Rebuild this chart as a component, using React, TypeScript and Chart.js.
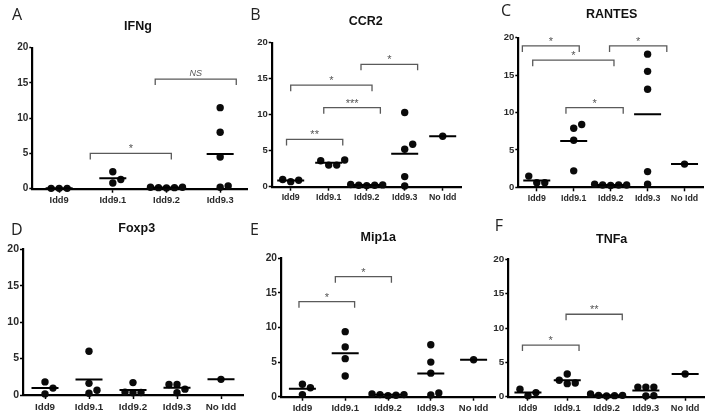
import React, { useEffect, useRef } from "react";
import { Chart, registerables } from "chart.js";

Chart.register(...registerables);

// ---------- data ----------
const categories = ["Idd9", "Idd9.1", "Idd9.2", "Idd9.3", "No Idd"];
const categoriesIFNg = ["Idd9", "Idd9.1", "Idd9.2", "Idd9.3"];
const yTicks = [0, 5, 10, 15, 20];

const ifngIdd9 = [0.05, 0.05, 0.05];
const ifngIdd91 = [2.4, 0.8, 1.3];
const ifngIdd92 = [0.15, 0.2, 0.1, 0.2, 0.15];
const ifngIdd93 = [11.5, 8.0, 4.5, 0.2, 0.4];

const ccr2Idd9 = [0.9, 0.7, 1.0];
const ccr2Idd91 = [3.6, 3.0, 3.7, 3.0];
const ccr2Idd92 = [0.2, 0.3, 0.25, 0.2, 0.15];
const ccr2Idd93 = [10.3, 5.2, 5.9, 1.4, 0.1];
const ccr2NoIdd = [7.0];

const rantesIdd9 = [1.5, 0.6, 0.6];
const rantesIdd91 = [7.9, 8.4, 6.3, 2.2];
const rantesIdd92 = [0.3, 0.4, 0.3, 0.25, 0.3];
const rantesIdd93 = [17.8, 15.5, 13.1, 2.1, 0.4];
const rantesNoIdd = [3.1];

const foxp3Idd9 = [1.8, 0.95, 0.15];
const foxp3Idd91 = [6.0, 1.6, 0.25, 0.65];
const foxp3Idd92 = [1.7, 0.3, 0.35, 0.4];
const foxp3Idd93 = [1.45, 1.45, 0.3, 0.8];
const foxp3NoIdd = [2.15];

const mip1aIdd9 = [1.8, 1.3, 0.3];
const mip1aIdd91 = [9.4, 7.2, 5.5, 3.0];
const mip1aIdd92 = [0.4, 0.3, 0.2, 0.3, 0.15];
const mip1aIdd93 = [7.5, 5.0, 3.4, 0.25, 0.55];
const mip1aNoIdd = [5.35];

const tnfaIdd9 = [1.1, 0.15, 0.6];
const tnfaIdd91 = [2.4, 3.3, 1.9, 2.0];
const tnfaIdd92 = [0.4, 0.2, 0.15, 0.1, 0.2];
const tnfaIdd93 = [1.4, 1.4, 1.4, 0.1, 0.15];
const tnfaNoIdd = [3.3];

// significance brackets: [from category, to category, height, label]
type Bracket = [number, number, number, string];
const ifngBrackets: Bracket[] = [
  [0.58, 2.09, 5.0, "*"],
  [1.79, 3.3, 15.55, "NS"],
];
const ccr2Brackets: Bracket[] = [
  [-0.11, 1.37, 6.57, "**"],
  [0.87, 2.36, 10.97, "***"],
  [0.0, 2.14, 14.1, "*"],
  [1.85, 3.34, 17.0, "*"],
];
const rantesBrackets: Bracket[] = [
  [-0.39, 1.15, 18.9, "*"],
  [-0.11, 2.09, 17.0, "*"],
  [1.97, 3.52, 18.9, "*"],
  [0.79, 2.34, 10.65, "*"],
];
const foxp3Brackets: Bracket[] = [];
const mip1aBrackets: Bracket[] = [
  [-0.08, 1.22, 13.73, "*"],
  [0.77, 2.08, 17.35, "*"],
];
const tnfaBrackets: Bracket[] = [
  [-0.14, 1.3, 7.52, "*"],
  [0.97, 2.4, 12.0, "**"],
];

// ---------- layout (page pixels) ----------
interface Layout {
  left: number; right: number; top: number; bottom: number;
  titleX: number; titleY: number; letterX: number; letterY: number;
  font: number;
}

interface Panel {
  letter: string;
  title: string;
  cats: string[];
  groups: number[][];
  brackets: Bracket[];
  layout: Layout;
}

const panels: Panel[] = [
  {
    letter: "A", title: "IFNg", cats: categoriesIFNg,
    groups: [ifngIdd9, ifngIdd91, ifngIdd92, ifngIdd93],
    brackets: ifngBrackets,
    layout: { left: 32.3, right: 247, top: 47.7, bottom: 188.7, titleX: 138, titleY: 27, letterX: 17, letterY: 15.5, font: 9.3 },
  },
  {
    letter: "B", title: "CCR2", cats: categories,
    groups: [ccr2Idd9, ccr2Idd91, ccr2Idd92, ccr2Idd93, ccr2NoIdd],
    brackets: ccr2Brackets,
    layout: { left: 271.7, right: 461.7, top: 42.7, bottom: 186.7, titleX: 365.7, titleY: 21.7, letterX: 255.5, letterY: 15, font: 8.8 },
  },
  {
    letter: "C", title: "RANTES", cats: categories,
    groups: [rantesIdd9, rantesIdd91, rantesIdd92, rantesIdd93, rantesNoIdd],
    brackets: rantesBrackets,
    layout: { left: 518.3, right: 703, top: 37.7, bottom: 187.3, titleX: 611.7, titleY: 15, letterX: 506, letterY: 11.7, font: 8.8 },
  },
  {
    letter: "D", title: "Foxp3", cats: categories,
    groups: [foxp3Idd9, foxp3Idd91, foxp3Idd92, foxp3Idd93, foxp3NoIdd],
    brackets: foxp3Brackets,
    layout: { left: 23, right: 243, top: 249.3, bottom: 395, titleX: 136.7, titleY: 228.3, letterX: 16.7, letterY: 230, font: 9.8 },
  },
  {
    letter: "E", title: "Mip1a", cats: categories,
    groups: [mip1aIdd9, mip1aIdd91, mip1aIdd92, mip1aIdd93, mip1aNoIdd],
    brackets: mip1aBrackets,
    layout: { left: 281, right: 495, top: 258.3, bottom: 396.7, titleX: 378.3, titleY: 237.7, letterX: 254.5, letterY: 230, font: 9.5 },
  },
  {
    letter: "F", title: "TNFa", cats: categories,
    groups: [tnfaIdd9, tnfaIdd91, tnfaIdd92, tnfaIdd93, tnfaNoIdd],
    brackets: tnfaBrackets,
    layout: { left: 508.3, right: 704.8, top: 259.3, bottom: 396.7, titleX: 611.7, titleY: 239.3, letterX: 499, letterY: 226.7, font: 9.2 },
  },
];

const W = 709;
const H = 414;
const Y_W = 22;
const X_H = 20;
const FONT = '"Liberation Sans", Arial, sans-serif';

// beeswarm slot assignment (GraphPad-like scatter)
function swarm(vals: number[], thr: number): number[] {
  const order = vals.map((_, i) => i).sort((a, b) => vals[a] - vals[b] || a - b);
  const slots: number[] = new Array(vals.length).fill(0);
  const placed: { s: number; v: number }[] = [];
  const cand = [0, 1, -1, 2, -2, 3, -3, 4, -4];
  for (const idx of order) {
    for (const s of cand) {
      if (!placed.some((p) => p.s === s && Math.abs(p.v - vals[idx]) < thr)) {
        slots[idx] = s;
        placed.push({ s, v: vals[idx] });
        break;
      }
    }
  }
  return slots;
}

function PanelChart({ panel }: { panel: Panel }) {
  const ref = useRef<HTMLCanvasElement | null>(null);
  useEffect(() => {
    if (!ref.current) return;
    const L = panel.layout;
    const n = panel.cats.length;
    const catPx = (L.right - L.left) / n;
    const pxPerUnit = (L.bottom - L.top) / 20;
    const step = 8 / catPx;
    const thr = 7.5 / pxPerUnit;
    const half = 13.5 / catPx;

    const points: { x: number; y: number }[] = [];
    const means: { x: number; y: number | null }[] = [];
    panel.groups.forEach((vals, i) => {
      const slots = swarm(vals, thr);
      vals.forEach((v, k) => points.push({ x: i + slots[k] * step, y: v }));
      const m = vals.reduce((a, b) => a + b, 0) / vals.length;
      means.push({ x: i - half, y: m }, { x: i + half, y: m }, { x: i + half, y: null });
    });

    const deco = {
      id: "deco" + panel.letter,
      afterDraw(chart: any) {
        const ctx = chart.ctx as CanvasRenderingContext2D;
        const xs = chart.scales.x;
        const ys = chart.scales.y;
        ctx.save();
        panel.brackets.forEach((b) => {
          const x1 = xs.getPixelForValue(b[0]);
          const x2 = xs.getPixelForValue(b[1]);
          const yp = ys.getPixelForValue(b[2]);
          ctx.strokeStyle = "#5a5a5a";
          ctx.lineWidth = 1.3;
          ctx.beginPath();
          ctx.moveTo(x1, yp + 6);
          ctx.lineTo(x1, yp);
          ctx.lineTo(x2, yp);
          ctx.lineTo(x2, yp + 6);
          ctx.stroke();
          ctx.fillStyle = "#555";
          ctx.textAlign = "center";
          ctx.textBaseline = "alphabetic";
          if (b[3] === "NS") {
            ctx.font = `italic 9px ${FONT}`;
            ctx.fillText(b[3], (x1 + x2) / 2, yp - 3);
          } else {
            ctx.font = `11px ${FONT}`;
            ctx.fillText(b[3], (x1 + x2) / 2, yp - 1);
          }
        });
        ctx.fillStyle = "#111";
        ctx.textAlign = "center";
        ctx.textBaseline = "middle";
        ctx.font = `bold 12.5px ${FONT}`;
        ctx.fillText(panel.title, L.titleX, L.titleY);
        ctx.fillStyle = "#222";
        ctx.font = `16px "Open Sans", ${FONT}`;
        ctx.fillText(panel.letter, L.letterX, L.letterY);
        ctx.restore();
      },
    };

    const xFont = { family: FONT, size: L.font, weight: "bold" as const };
    const yFont = { family: FONT, size: L.font + 0.7, weight: "bold" as const };

    const chart = new Chart(ref.current, {
      type: "scatter",
      data: {
        datasets: [
          {
            type: "scatter",
            data: points,
            pointRadius: 3.7,
            pointBackgroundColor: "#0a0a0a",
            pointBorderWidth: 0,
            clip: false,
            order: 1,
          } as any,
          {
            type: "line",
            data: means,
            borderColor: "#000",
            borderWidth: 2,
            pointRadius: 0,
            spanGaps: false,
            clip: false,
            order: 0,
          } as any,
        ],
      },
      options: {
        responsive: false,
        animation: false,
        events: [],
        layout: {
          padding: {
            left: L.left - Y_W,
            top: L.top,
            right: W - L.right,
            bottom: H - L.bottom - X_H,
          },
        },
        plugins: {
          legend: { display: false },
          title: { display: false },
          tooltip: { enabled: false },
        },
        scales: {
          x: {
            type: "linear",
            min: -0.5,
            max: n - 0.5,
            afterBuildTicks: (s: any) => {
              s.ticks = panel.cats.map((_, i) => ({ value: i }));
            },
            afterFit: (s: any) => {
              s.height = X_H;
            },
            ticks: {
              autoSkip: false,
              maxRotation: 0,
              padding: 2,
              color: "#2a2a2a",
              font: xFont,
              callback: (v: any) => panel.cats[Math.round(Number(v))] ?? "",
            },
            grid: {
              drawOnChartArea: false,
              drawTicks: true,
              tickLength: 4,
              tickColor: "#000",
              tickWidth: 1.5,
            },
            border: { display: true, color: "#000", width: 2.2 },
          },
          y: {
            type: "linear",
            min: 0,
            max: 20,
            afterBuildTicks: (s: any) => {
              s.ticks = yTicks.map((v) => ({ value: v }));
            },
            afterFit: (s: any) => {
              s.width = Y_W;
            },
            ticks: {
              padding: 1,
              color: "#2a2a2a",
              font: yFont,
            },
            grid: {
              drawOnChartArea: false,
              drawTicks: true,
              tickLength: 3,
              tickColor: "#000",
              tickWidth: 1.5,
            },
            border: { display: true, color: "#000", width: 2.2 },
          },
        },
      } as any,
      plugins: [deco],
    });
    return () => chart.destroy();
  }, [panel]);

  return (
    <canvas
      ref={ref}
      width={W}
      height={H}
      style={{ position: "absolute", left: 0, top: 0, width: W, height: H }}
    />
  );
}

export default function App() {
  return (
    <div
      style={{
        position: "absolute",
        left: 0,
        top: 0,
        width: W,
        height: H,
        background: "#fff",
        overflow: "hidden",
      }}
    >
      {panels.map((p) => (
        <PanelChart key={p.letter} panel={p} />
      ))}
    </div>
  );
}
